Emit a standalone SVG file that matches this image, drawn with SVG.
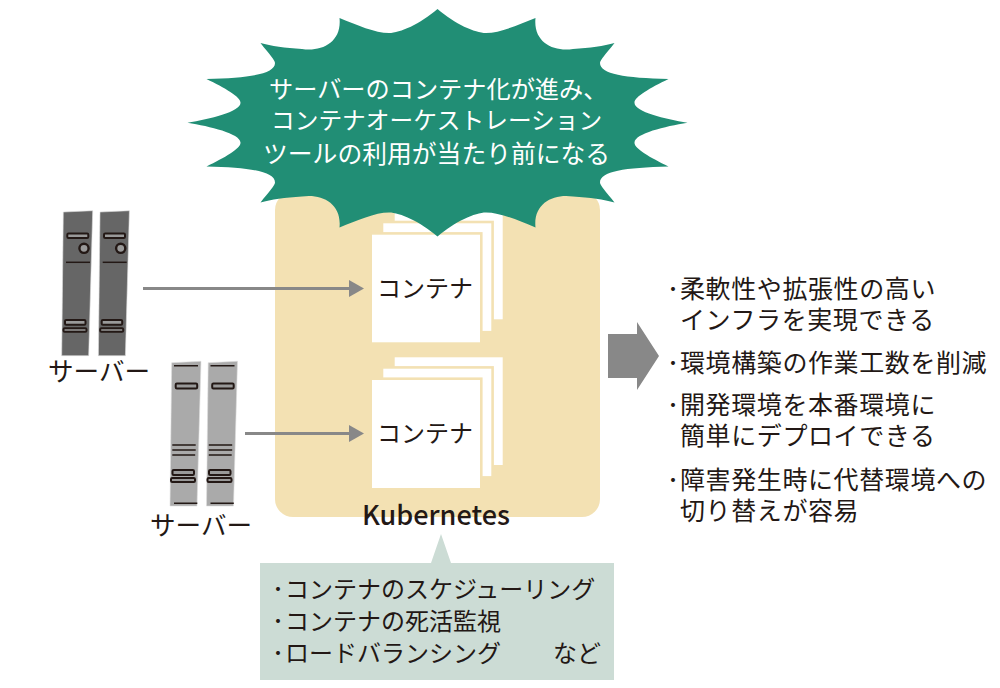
<svg xmlns="http://www.w3.org/2000/svg" width="1000" height="688" viewBox="0 0 1000 688">
<style>
text{font-family:"Noto Sans CJK JP","Noto Sans",sans-serif;fill:#231815}
.wh{fill:#fff}
.t24{font-size:24px}
.t25{font-size:25.6px}
.tb{font-size:25px;letter-spacing:.6px}
.dot{font-size:14px;font-weight:900}
.box{fill:#fff}
.fr{fill:#fff;stroke:#f3e1b3;stroke-width:2.6}
.conn{stroke:#888;stroke-width:3;fill:none;marker-end:url(#ah)}
.ln{stroke:#231815;stroke-width:1.5;fill:none}
.sl{stroke:#231815;stroke-width:2;fill:#999}
.sd{fill:#666;stroke:#ddd;stroke-width:.6}
.sg{fill:#aaa;stroke:#ddd;stroke-width:.6}
</style>
<defs>
<marker id="ah" markerUnits="userSpaceOnUse" markerWidth="16" markerHeight="18" refX="0" refY="9" orient="auto" overflow="visible"><path d="M0 0.5L15 9L0 17.5Z" fill="#888"/></marker>
<g id="dark">
<path class="sd" d="M63.3 212L92.7 210.7L88.7 355.7L61.7 355.7Z"/>
<rect class="sl" x="67.3" y="233.5" width="21" height="4.5" rx="1.2"/>
<circle cx="84" cy="248.3" r="4.6" fill="#999" stroke="#231815" stroke-width="2.4"/>
<path class="ln" d="M66 262.3H90"/>
<rect class="sl" x="65" y="320" width="20.5" height="4.8" rx="1.2"/>
<rect class="sl" x="63.5" y="328.2" width="23" height="3.6" rx="1.2"/>
</g>
<g id="light">
<path class="sg" d="M171.7 362.7L201 361.3L197 506L170 506Z"/>
<path class="ln" d="M174 365.7H198M172.3 445H195.7M172.3 450H195.7M172.3 455H195.2M174 503.3H197.3"/>
<rect class="sl" x="175.7" y="383.5" width="21.5" height="5" rx="1.2"/>
<rect class="sl" x="172.5" y="470" width="21.5" height="5" rx="1.2"/>
<rect class="sl" x="171" y="478" width="24" height="4" rx="1.2"/>
</g>
</defs>
<rect width="1000" height="688" fill="#fff"/>
<g id="kubernetes">
<rect x="275" y="192" width="325" height="325" rx="18" fill="#f3e1b3"/>
</g>
<g id="container-1">
<rect class="box" x="394.7" y="212" width="108" height="107.3"/>
<rect class="fr" x="382" y="222" width="110.6" height="110.2"/>
<rect class="fr" x="370.7" y="233.4" width="110.6" height="110.2"/>
<text class="t24" x="377" y="297">コンテナ</text>
</g>
<g id="container-2">
<rect class="box" x="394.7" y="357.3" width="108" height="107.7"/>
<rect class="fr" x="382" y="367.4" width="110.6" height="110"/>
<rect class="fr" x="370.7" y="378.7" width="110.6" height="110.6"/>
<text class="t24" x="377" y="442">コンテナ</text>
</g>
<g id="burst">
<path fill="#218e75" d="M437.5 9C455 24 475 33 486 33C500 33 518 25 535.5 18C533 42 553 52 573 49C590 48 604 46 614.5 43C606 54 600 60 600 63C600 74 625 78 668.5 79C650 88 634 97 634.5 103C635 112 665 119 687.5 122.7C665 126.4 635 133.4 634.5 142.4C634 148.4 650 157.4 668.5 166.4C625 167.4 600 171.4 600 182.4C600 185.4 606 191.4 614.5 202.4C604 199.4 590 197.4 573 196.4C553 193.4 533 203.4 535.5 227.4C518 220.4 500 212.4 486 212.4C475 212.4 455 221.4 437.5 236.4C420 221.4 400 212.4 389 212.4C375 212.4 357 220.4 339.5 227.4C342 203.4 322 193.4 302 196.4C285 197.4 271 199.4 260.5 202.4C269 191.4 275 185.4 275 182.4C275 171.4 250 167.4 206.5 166.4C225 157.4 241 148.4 240.5 142.4C240 133.4 210 126.4 187.5 122.7C210 119 240 112 240.5 103C241 97 225 88 206.5 79C250 78 275 74 275 63C275 60 269 54 260.5 43C271 46 285 48 302 49C322 52 342 42 339.5 18C357 25 375 33 389 33C400 33 420 24 437.5 9Z"/>
<text class="wh" font-size="24.2" x="269" y="98">サーバーのコンテナ化が進み、</text>
<text class="wh" font-size="23.7" x="271" y="129">コンテナオーケストレーション</text>
<text class="wh" font-size="24.8" x="263" y="163">ツールの利用が当たり前になる</text>
</g>
<g id="server-1">
<use href="#dark"/>
<use href="#dark" x="36.7"/>
<text class="t25" x="48" y="381">サーバー</text>
</g>
<g id="server-2">
<use href="#light"/>
<use href="#light" x="36.5"/>
<text class="t25" x="150" y="535">サーバー</text>
</g>
<g id="connectors">
<path class="conn" d="M143 288.5H349"/>
<path class="conn" d="M245 433.5H349"/>
</g>
<g id="big-arrow">
<path fill="#888" d="M608 334H637V322L659 356L637 390V378H608Z"/>
</g>
<g id="kubernetes-label">
<text x="362" y="525" font-size="27" font-weight="500" font-family="Noto Sans">Kubernetes</text>
</g>
<g id="callout">
<path fill="#ccdcd5" d="M260 563H431L441 534L451 563H614V680H260Z"/>
<text class="dot" x="271" y="594">・</text><text class="t24" x="285" y="598">コンテナのスケジューリング</text>
<text class="dot" x="271" y="626">・</text><text class="t24" x="285" y="630">コンテナの死活監視</text>
<text class="dot" x="271" y="658">・</text><text class="t24" x="285" y="662">ロードバランシング<tspan x="553">など</tspan></text>
</g>
<g id="benefits">
<text class="dot" x="666" y="294">・</text><text class="tb" x="680" y="298">柔軟性や拡張性の高い</text>
<text class="tb" x="680" y="329">インフラを実現できる</text>
<text class="dot" x="666" y="368">・</text><text class="tb" x="680" y="372">環境構築の作業工数を削減</text>
<text class="dot" x="666" y="410">・</text><text class="tb" x="680" y="414">開発環境を本番環境に</text>
<text class="tb" x="680" y="445">簡単にデプロイできる</text>
<text class="dot" x="666" y="485">・</text><text class="tb" x="680" y="489">障害発生時に代替環境への</text>
<text class="tb" x="680" y="520">切り替えが容易</text>
</g>
</svg>
